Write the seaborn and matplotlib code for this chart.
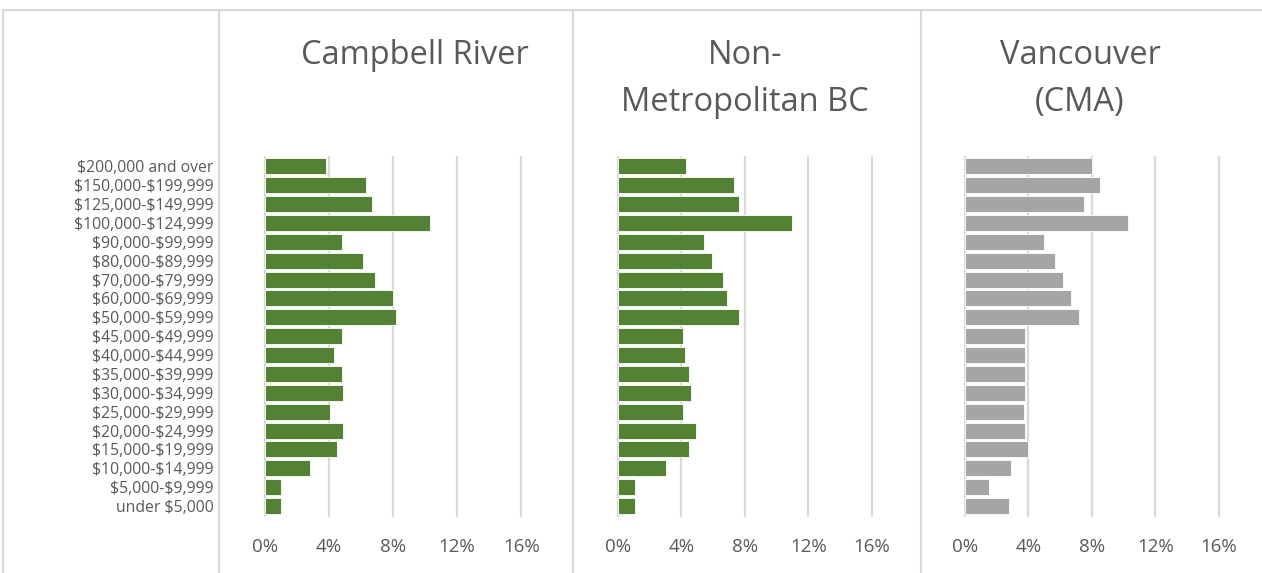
import matplotlib
matplotlib.use("Agg")
import matplotlib.pyplot as plt
import seaborn as sns
import pandas as pd
from matplotlib.lines import Line2D

categories = ["$200,000 and over", "$150,000-$199,999", "$125,000-$149,999",
              "$100,000-$124,999", "$90,000-$99,999", "$80,000-$89,999",
              "$70,000-$79,999", "$60,000-$69,999", "$50,000-$59,999",
              "$45,000-$49,999", "$40,000-$44,999", "$35,000-$39,999",
              "$30,000-$34,999", "$25,000-$29,999", "$20,000-$24,999",
              "$15,000-$19,999", "$10,000-$14,999", "$5,000-$9,999", "under $5,000"]

campbell_river = [3.8, 6.3, 6.7, 10.3, 4.8, 6.1, 6.9, 8.0, 8.2, 4.8,
                  4.3, 4.8, 4.9, 4.1, 4.9, 4.5, 2.8, 1.0, 1.0]
non_metro_bc = [4.3, 7.3, 7.6, 11.0, 5.4, 5.9, 6.6, 6.9, 7.6, 4.1,
                4.2, 4.5, 4.6, 4.1, 4.9, 4.5, 3.0, 1.1, 1.1]
vancouver = [8.0, 8.5, 7.5, 10.3, 5.0, 5.7, 6.2, 6.7, 7.2, 3.8,
             3.8, 3.8, 3.8, 3.7, 3.8, 4.0, 2.9, 1.5, 2.8]

titles = ["Campbell River", "Non-\nMetropolitan BC", "Vancouver\n(CMA)"]
xticks = [0, 4, 8, 12, 16]
xticklabels = ["0%", "4%", "8%", "12%", "16%"]

GREEN = "#548235"
GRAY = "#A5A5A5"
TEXT = "#595959"
GRID = "#D9D9D9"

sns.set_style("white")
plt.rcParams["font.family"] = ["Open Sans", "DejaVu Sans"]
plt.rcParams["text.parse_math"] = False

W, H = 1262, 573
fig = plt.figure(figsize=(W / 100, H / 100), dpi=100)

panels = [
    (campbell_river, GREEN, 264.7, 521.3, 415),
    (non_metro_bc, GREEN, 618.0, 871.7, 745),
    (vancouver, GRAY, 964.7, 1219.0, 1080),
]
top_px, bot_px = 156.9, 515.5

for i, (vals, col, x0, x16, tx) in enumerate(panels):
    ax = fig.add_axes([x0 / W, 1 - bot_px / H, (x16 - x0) / W, (bot_px - top_px) / H])
    df = pd.DataFrame({"cat": categories, "val": vals})
    sns.barplot(data=df, x="val", y="cat", ax=ax, color=col, orient="h",
                width=0.85, saturation=1, edgecolor="white", linewidth=0.6)
    ax.set_xlim(0, 16)
    ax.set_ylim(len(categories) - 0.5, -0.5)
    ax.set_xticks(xticks)
    ax.set_xticklabels(xticklabels, fontsize=13.5, color=TEXT)
    ax.tick_params(axis="x", length=0, pad=16)
    ax.grid(False)
    for xv in xticks:
        ax.axvline(xv, color=GRID, lw=1.6, zorder=0, clip_on=False)
    ax.set_axisbelow(True)
    for s in ax.spines.values():
        s.set_visible(False)
    ax.set_xlabel("")
    ax.set_ylabel("")
    if i == 0:
        ax.tick_params(axis="y", length=0, pad=37)
        for lab in ax.get_yticklabels():
            lab.set_fontsize(11.3)
            lab.set_color(TEXT)
    else:
        ax.set_yticklabels([])
        ax.tick_params(axis="y", length=0)
    fig.text(tx / W, 1 - 39 / H, titles[i], ha="center", va="top",
             fontsize=23.5, color=TEXT, linespacing=1.55)

# frame lines
for xs, ys in [((3, 3), (10, 573)), ((3, 1262), (10, 10)),
               ((219, 219), (10, 573)), ((573, 573), (10, 573)),
               ((921, 921), (10, 573))]:
    fig.add_artist(Line2D([x / W for x in xs], [1 - y / H for y in ys],
                          color=GRID, lw=1.5))

fig.savefig("out.png", dpi=100, facecolor="white")
